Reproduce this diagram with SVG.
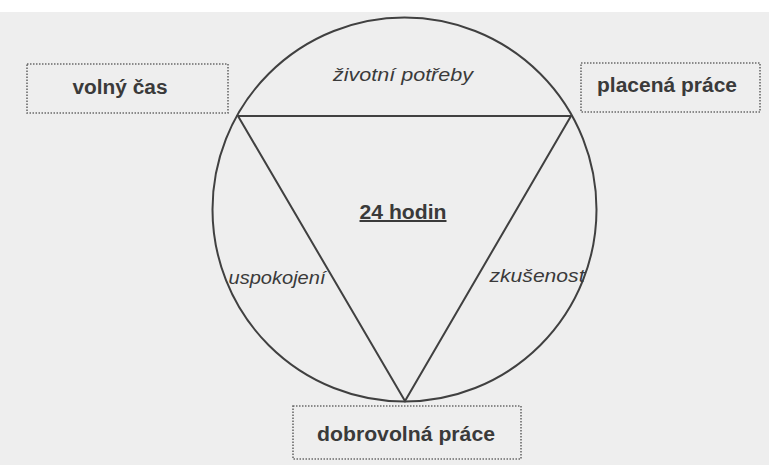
<svg xmlns="http://www.w3.org/2000/svg" width="769" height="465" viewBox="0 0 769 465">
  <style>
    .box { fill: none; stroke: #6a6a6a; stroke-width: 1.6; stroke-dasharray: 1.5 1.5; }
    .lbl { font-family: "Liberation Sans", Arial, sans-serif; font-weight: bold; font-size: 20px; fill: #3a3a3a; text-anchor: middle; }
    .it { font-family: "Liberation Sans", Arial, sans-serif; font-style: italic; font-size: 18px; fill: #3a3a3a; text-anchor: middle; }
    .ln { fill: none; stroke: #404040; stroke-width: 2; }
  </style>
  <rect x="0" y="0" width="769" height="465" fill="#ffffff"/>
  <rect x="0" y="12" width="769" height="453" fill="#eeeeee"/>

  <g id="connectors">
    <circle class="ln" cx="404.5" cy="209.5" r="192"/>
    <polygon class="ln" points="238,116 571,116 405,401"/>
  </g>

  <g id="volny-cas">
    <rect class="box" x="27" y="64" width="201" height="49"/>
    <text class="lbl" x="120" y="94" textLength="95" lengthAdjust="spacingAndGlyphs">volný čas</text>
  </g>
  <g id="placena-prace">
    <rect class="box" x="581" y="63" width="179" height="49"/>
    <text class="lbl" x="667" y="92" textLength="140" lengthAdjust="spacingAndGlyphs">placená práce</text>
  </g>
  <g id="dobrovolna-prace">
    <rect class="box" x="293" y="406" width="228" height="53"/>
    <text class="lbl" x="406" y="441" textLength="178" lengthAdjust="spacingAndGlyphs">dobrovolná práce</text>
  </g>
  <g id="zivotni-potreby">
    <text class="it" x="403" y="81" textLength="140" lengthAdjust="spacingAndGlyphs">životní potřeby</text>
  </g>
  <g id="hodin">
    <text class="lbl" x="403" y="219" textLength="87" lengthAdjust="spacingAndGlyphs" text-decoration="underline">24 hodin</text>
  </g>
  <g id="uspokojeni">
    <text class="it" x="277" y="284" textLength="97" lengthAdjust="spacingAndGlyphs">uspokojení</text>
  </g>
  <g id="zkusenost">
    <text class="it" x="537" y="282" textLength="95" lengthAdjust="spacingAndGlyphs">zkušenost</text>
  </g>
</svg>
